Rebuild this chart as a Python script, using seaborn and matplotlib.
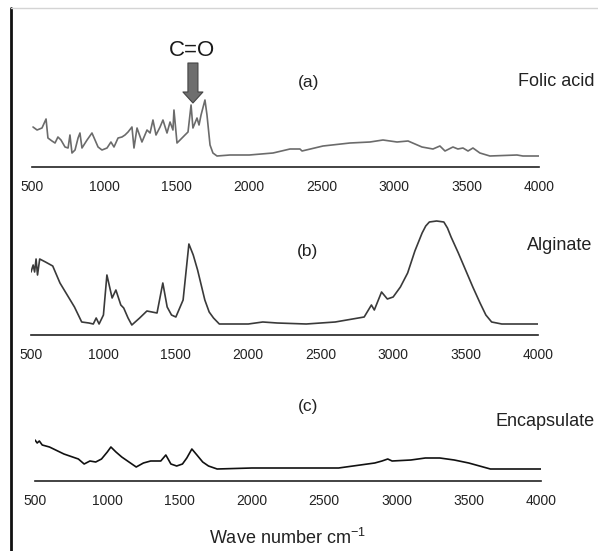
import numpy as np
import pandas as pd
import matplotlib
matplotlib.use("Agg")
import matplotlib.pyplot as plt
import seaborn as sns
from matplotlib.ticker import MultipleLocator
from matplotlib.lines import Line2D

sns.set_style("white")
plt.rcParams['font.family'] = ['Liberation Sans', 'DejaVu Sans']
plt.rcParams['mathtext.fontset'] = 'custom'
plt.rcParams['mathtext.rm'] = 'Liberation Sans'
plt.rcParams['mathtext.it'] = 'Liberation Sans'

# (a) folic acid - wave number / intensity (arbitrary units)
wn_a = [507, 535, 569, 597, 610, 638, 659, 679, 700, 728, 749, 762, 776, 797, 818, 831,
        845, 880, 914, 935, 956, 983, 1018, 1045, 1066, 1094, 1121, 1142, 1163, 1190,
        1204, 1225, 1259, 1294, 1315, 1335, 1356, 1384, 1404, 1432, 1453, 1473, 1480,
        1501, 1522, 1556, 1577, 1598, 1611, 1639, 1653, 1667, 1694, 1708, 1729, 1749,
        1777, 1867, 2000, 2164, 2281, 2350, 2364, 2509, 2695, 2833, 2923, 3020, 3096,
        3192, 3268, 3316, 3351, 3406, 3440, 3475, 3510, 3544, 3592, 3661, 3848, 3889, 4000]
int_a = [40, 37, 39, 48, 29, 26, 24, 30, 27, 20, 19, 32, 14, 17, 29, 34,
         19, 27, 34, 27, 20, 17, 19, 25, 20, 29, 30, 32, 35, 40,
         19, 39, 25, 37, 34, 47, 32, 40, 47, 34, 45, 37, 57,
         24, 27, 32, 35, 62, 39, 49, 42, 52, 67, 52, 22, 14,
         11, 12, 12, 14, 18, 18, 16, 21, 24, 25, 27, 25, 26,
         20, 18, 21, 16, 20, 18, 19, 16, 19, 14, 11, 12, 11, 11]

# (b) alginate
wn_b = [500, 515, 525, 535, 545, 560, 600, 650, 700, 750, 800, 850, 900, 930, 950, 970,
        1000, 1024, 1060, 1086, 1120, 1140, 1170, 1196, 1250, 1300, 1370, 1410, 1440,
        1470, 1500, 1550, 1575, 1590, 1620, 1650, 1700, 1730, 1760, 1800, 2000, 2100,
        2200, 2400, 2600, 2800, 2850, 2870, 2920, 2960, 3000, 3050, 3100, 3150, 3200,
        3225, 3250, 3300, 3350, 3375, 3400, 3450, 3500, 3550, 3600, 3640, 3680, 3750, 4000]
int_b = [63, 70, 63, 76, 60, 76, 73, 69, 52, 40, 28, 13, 12, 11, 17, 11,
         20, 60, 37, 45, 30, 27, 17, 10, 17, 24, 22, 52, 28,
         20, 18, 35, 70, 91, 80, 65, 35, 23, 17, 11, 11, 13,
         12, 11, 13, 18, 30, 25, 43, 36, 38, 48, 62, 84, 102,
         109, 113, 114, 113, 107, 98, 82, 65, 48, 32, 20, 13, 11, 11]

# (c) encapsulate
wn_c = [500, 515, 530, 550, 600, 700, 800, 840, 880, 920, 960, 1000, 1025, 1060, 1100,
        1150, 1200, 1250, 1300, 1370, 1405, 1440, 1480, 1520, 1550, 1585, 1620, 1660,
        1700, 1760, 2000, 2600, 2700, 2850, 2900, 2940, 2970, 3100, 3200, 3300, 3400,
        3500, 3600, 3650, 4000]
int_c = [41, 38, 40, 36, 34, 27, 22, 17, 20, 19, 22, 29, 34, 29, 24,
         19, 14, 18, 20, 20, 26, 17, 15, 17, 23, 32, 26, 19,
         15, 12, 13, 13, 15, 18, 20, 22, 20, 21, 23, 23, 21,
         18, 14, 12, 12]

samples = ["Folic acid", "Alginate", "Encapsulate"]
panel_tags = ["(a)", "(b)", "(c)"]
ticks = [500, 1000, 1500, 2000, 2500, 3000, 3500, 4000]

W, H = 598, 551
fig = plt.figure(figsize=(W / 100, H / 100), dpi=100)


def px_axes(left, right, bottom, top):
    return fig.add_axes([left / W, 1 - bottom / H, (right - left) / W, (bottom - top) / H])


panels = [
    (px_axes(32, 539, 167, 40), wn_a, int_a, "#6b6b6b", 127),
    (px_axes(31, 538, 335, 200), wn_b, int_b, "#3a3a3a", 135),
    (px_axes(35, 541, 481, 380), wn_c, int_c, "#111111", 101),
]

for ax, x, y, col, top in panels:
    df = pd.DataFrame({"wn": x, "i": y})
    sns.lineplot(data=df, x="wn", y="i", ax=ax, color=col, linewidth=1.2, sort=False)
    ax.set_xlim(500, 4000)
    ax.set_ylim(0, top)
    for s in ["top", "right", "left"]:
        ax.spines[s].set_visible(False)
    ax.spines["bottom"].set_color("#222222")
    ax.spines["bottom"].set_linewidth(1.2)
    ax.set_yticks([])
    ax.set_xticks(ticks)
    ax.xaxis.set_minor_locator(MultipleLocator(250))
    ax.tick_params(axis="x", which="major", direction="out", length=5.5, width=1.1,
                   color="#222222", pad=4, labelsize=10, labelcolor="#222222")
    ax.tick_params(axis="x", which="minor", direction="out", length=3.5, width=1.0,
                   color="#222222")
    ax.set_xlabel("")
    ax.set_ylabel("")
    ax.patch.set_alpha(0)

# C=O arrow on folic acid panel
ax_a = panels[0][0]
ax_a.annotate("", xy=(1611, 64), xytext=(1611, 104),
              arrowprops=dict(arrowstyle="simple,head_length=0.55,head_width=1.0,tail_width=0.5",
                              mutation_scale=14.4, fc="#6e6e6e", ec="#444444", lw=0.8,
                              shrinkA=0, shrinkB=0))
fig.text(192.5 / W, 1 - 51 / H, "C=O", ha="center", va="center", fontsize=16, color="#1a1a1a")

# panel tags and sample names
tag_pos = [(309, 82), (308, 252), (308, 407)]
name_pos = [(594, 82), (592, 245), (595, 422)]
for tag, (tx, ty), name, (nx, ny) in zip(panel_tags, tag_pos, samples, name_pos):
    fig.text(tx / W, 1 - ty / H, tag, ha="center", va="center", fontsize=12.5, color="#222222")
    fig.text(nx / W, 1 - ny / H, name, ha="right", va="center", fontsize=13, color="#222222")

fig.text(287 / W, 1 - 538 / H, "Wave number cm$^{-1}$", ha="center", va="center",
         fontsize=13, color="#222222")

# frame lines (left black rule, faint top rule)
fig.add_artist(Line2D([11 / W, 11 / W], [1 - 8 / H, 0], transform=fig.transFigure,
                      color="#111111", lw=2.0))
fig.add_artist(Line2D([11 / W, 1], [1 - 8 / H, 1 - 8 / H], transform=fig.transFigure,
                      color="#d4d4d4", lw=1.0))

fig.savefig("out.png", dpi=100)
